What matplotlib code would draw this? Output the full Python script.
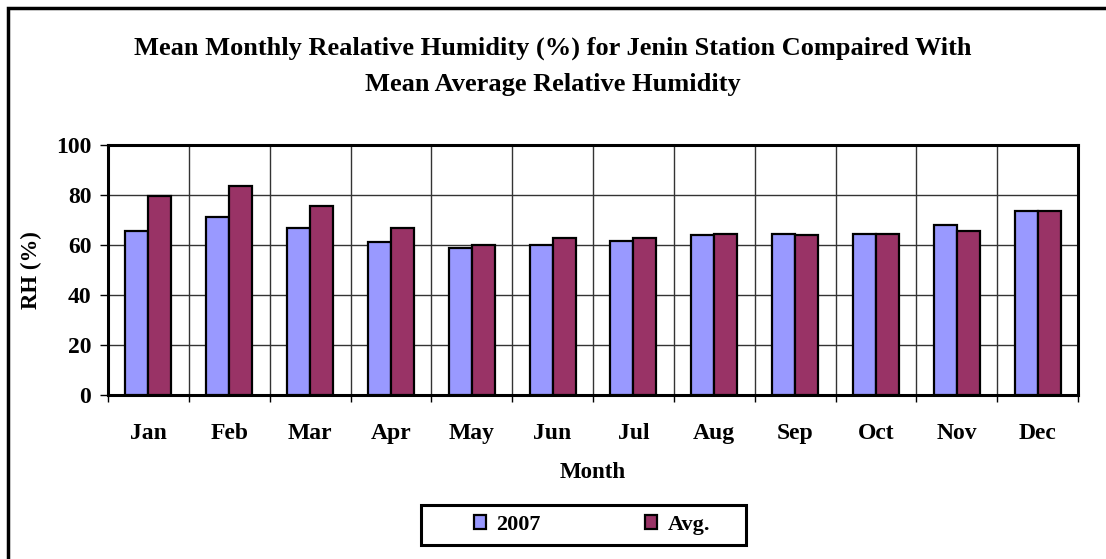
import numpy as np
import matplotlib as mpl
mpl.use('Agg')
import matplotlib.pyplot as plt
from matplotlib.patches import Rectangle

months = ['Jan', 'Feb', 'Mar', 'Apr', 'May', 'Jun',
          'Jul', 'Aug', 'Sep', 'Oct', 'Nov', 'Dec']
rh_2007 = [65.6, 71.1, 66.8, 61.1, 58.7, 60.0, 61.7, 64.1, 64.5, 64.5, 68.0, 73.7]
rh_avg = [79.7, 83.6, 75.7, 66.9, 60.0, 62.8, 62.8, 64.5, 64.1, 64.5, 65.6, 73.7]
yticks = [0, 20, 40, 60, 80, 100]

plt.rcParams['font.family'] = ['Liberation Serif', 'DejaVu Serif']
plt.rcParams['font.weight'] = 'bold'

W, H = 1106, 559
fig = plt.figure(figsize=(W/100., H/100.), dpi=100)
ax = fig.add_axes([108./W, 1-395./H, 970./W, 250./H])

x = np.arange(len(months)) + 0.5
bw = 0.285
ax.bar(x - bw/2, rh_2007, bw, color='#9999FF', edgecolor='black', linewidth=1.6,
       label='2007', zorder=3)
ax.bar(x + bw/2, rh_avg, bw, color='#993366', edgecolor='black', linewidth=1.6,
       label='Avg.', zorder=3)

ax.set_xlim(0, len(months))
ax.set_ylim(0, 100)
ax.set_yticks(yticks)
ax.set_yticklabels([str(v) for v in yticks], fontsize=17, fontweight='bold')
ax.set_xticks(np.arange(len(months) + 1))
ax.set_xticklabels([])
ax.set_xticks(x, minor=True)
ax.set_xticklabels(months, minor=True, fontsize=17, fontweight='bold')
ax.tick_params(axis='x', which='major', length=5, width=1, direction='out')
ax.tick_params(axis='x', which='minor', length=0, pad=20)
ax.tick_params(axis='y', length=6, width=1, direction='out', pad=6)
ax.grid(True, which='major', color='#333333', linewidth=1, zorder=0)
ax.set_axisbelow(True)
for s in ax.spines.values():
    s.set_linewidth(2.2)
    s.set_color('black')

ax.set_xlabel('Month', fontsize=16.5, fontweight='bold')
ax.xaxis.set_label_coords(0.5, (395-473)/250.)
ax.xaxis.label.set_va('center')
ax.set_ylabel('RH (%)', fontsize=16.5, fontweight='bold')
ax.yaxis.set_label_coords((31-108)/970., 0.5)
ax.yaxis.label.set_va('center')

fig.text(0.5, 1-48./H,
         'Mean Monthly Realative Humidity (%) for Jenin Station Compaired With',
         ha='center', va='center', fontsize=19, fontweight='bold')
fig.text(0.5, 1-85./H, 'Mean Average Relative Humidity',
         ha='center', va='center', fontsize=19, fontweight='bold')

# legend with separate box
leg = fig.legend(loc='center', bbox_to_anchor=(592./W, 1-525./H), ncol=2,
                 frameon=False, handlelength=0.55, handleheight=0.55,
                 handletextpad=0.45, columnspacing=4.7,
                 prop={'weight': 'bold', 'size': 16})
fig.patches.append(Rectangle((421./W, 1-545./H), 325./W, 40./H,
                             transform=fig.transFigure, fill=False,
                             edgecolor='black', linewidth=2.2))
# outer chart frame (cut off at right and bottom)
fig.patches.append(Rectangle((8./W, -0.1), 1.2, 1-8./H+0.1,
                             transform=fig.transFigure, fill=False,
                             edgecolor='black', linewidth=2.5))

fig.savefig('out.png', dpi=100)
